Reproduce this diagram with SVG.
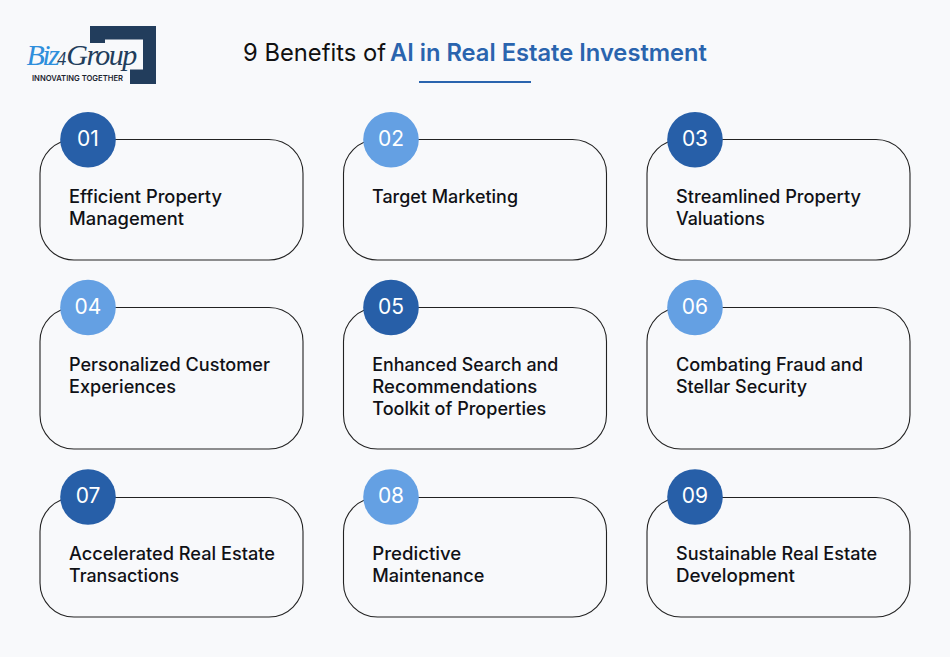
<svg xmlns="http://www.w3.org/2000/svg" width="950" height="657" viewBox="0 0 950 657">
<style>
.card{fill:#f8f9fb;stroke:#222;stroke-width:1.100}
.d{fill:#275fa8}.l{fill:#64a0e3}
.n{font:400 21px Inter,"Liberation Sans",sans-serif;fill:#fff;text-anchor:middle}
.t{font:550 18px Inter,"Liberation Sans",sans-serif;fill:#101116}
</style>
<rect width="950" height="657" fill="#f8f9fb"/>
<g id="logo">
<path d="M90 26H156V84H130V69.500H143V39.500H105V43H90Z" fill="#223d5c"/>
<text x="26.500" y="65" font-family="Liberation Serif,serif" font-style="italic" font-size="30" fill="#223d5c"><tspan fill="#2f8fdc" letter-spacing="-2.500">Biz</tspan><tspan font-size="18">4</tspan><tspan letter-spacing="-1.600">Group</tspan></text>
<text x="32" y="80.500" font-family="Inter,Liberation Sans,sans-serif" font-weight="600" font-size="8" fill="#1c2530" textLength="91" lengthAdjust="spacingAndGlyphs">INNOVATING TOGETHER</text>
</g>
<g id="title">
<text x="243" y="61" font-family="Inter,Liberation Sans,sans-serif" font-size="24" fill="#111" textLength="143" lengthAdjust="spacingAndGlyphs">9 Benefits of</text>
<text x="390" y="61" font-family="Inter,Liberation Sans,sans-serif" font-size="24" font-weight="600" fill="#2a64ae" textLength="317" lengthAdjust="spacingAndGlyphs">AI in Real Estate Investment</text>
<rect x="419" y="81" width="112" height="2" fill="#2a64ae"/>
</g>
<g id="connectors"></g>
<g id="node1"><rect class="card" x="40" y="139.500" width="263" height="120.500" rx="34"/><circle class="d" cx="88" cy="139.700" r="27.800"/><text class="n" x="88" y="146">01</text><text class="t" x="69" y="203" textLength="153" lengthAdjust="spacingAndGlyphs">Efficient Property</text><text class="t" x="69" y="225" textLength="115" lengthAdjust="spacingAndGlyphs">Management</text></g>
<g id="node2"><rect class="card" x="343.500" y="139.500" width="263" height="120.500" rx="34"/><circle class="l" cx="391" cy="139.700" r="27.800"/><text class="n" x="391" y="146">02</text><text class="t" x="372" y="203" textLength="146" lengthAdjust="spacingAndGlyphs">Target Marketing</text></g>
<g id="node3"><rect class="card" x="647" y="139.500" width="263" height="120.500" rx="34"/><circle class="d" cx="695" cy="139.700" r="27.800"/><text class="n" x="695" y="146">03</text><text class="t" x="676" y="203" textLength="185" lengthAdjust="spacingAndGlyphs">Streamlined Property</text><text class="t" x="676" y="225" textLength="89" lengthAdjust="spacingAndGlyphs">Valuations</text></g>
<g id="node4"><rect class="card" x="40" y="307.500" width="263" height="141.500" rx="34"/><circle class="l" cx="88" cy="307.500" r="27.800"/><text class="n" x="88" y="314">04</text><text class="t" x="69" y="371" textLength="201" lengthAdjust="spacingAndGlyphs">Personalized Customer</text><text class="t" x="69" y="393" textLength="107" lengthAdjust="spacingAndGlyphs">Experiences</text></g>
<g id="node5"><rect class="card" x="343.500" y="307.500" width="263" height="141.500" rx="34"/><circle class="d" cx="391" cy="307.500" r="27.800"/><text class="n" x="391" y="314">05</text><text class="t" x="372.300" y="371" textLength="186" lengthAdjust="spacingAndGlyphs">Enhanced Search and</text><text class="t" x="372.300" y="393" textLength="165" lengthAdjust="spacingAndGlyphs">Recommendations</text><text class="t" x="372.300" y="415" textLength="174" lengthAdjust="spacingAndGlyphs">Toolkit of Properties</text></g>
<g id="node6"><rect class="card" x="647" y="307.500" width="263" height="141.500" rx="34"/><circle class="l" cx="695" cy="307.500" r="27.800"/><text class="n" x="695" y="314">06</text><text class="t" x="676" y="371" textLength="187" lengthAdjust="spacingAndGlyphs">Combating Fraud and</text><text class="t" x="676" y="393" textLength="131" lengthAdjust="spacingAndGlyphs">Stellar Security</text></g>
<g id="node7"><rect class="card" x="40" y="497.500" width="263" height="119.500" rx="34"/><circle class="d" cx="88" cy="497" r="27.800"/><text class="n" x="88" y="503">07</text><text class="t" x="69" y="560" textLength="206" lengthAdjust="spacingAndGlyphs">Accelerated Real Estate</text><text class="t" x="69" y="582" textLength="110" lengthAdjust="spacingAndGlyphs">Transactions</text></g>
<g id="node8"><rect class="card" x="343.500" y="497.500" width="263" height="119.500" rx="34"/><circle class="l" cx="391" cy="497" r="27.800"/><text class="n" x="391" y="503">08</text><text class="t" x="372.300" y="560" textLength="89" lengthAdjust="spacingAndGlyphs">Predictive</text><text class="t" x="372.300" y="582" textLength="112" lengthAdjust="spacingAndGlyphs">Maintenance</text></g>
<g id="node9"><rect class="card" x="647" y="497.500" width="263" height="119.500" rx="34"/><circle class="d" cx="695" cy="497" r="27.800"/><text class="n" x="695" y="503">09</text><text class="t" x="676" y="560" textLength="201" lengthAdjust="spacingAndGlyphs">Sustainable Real Estate</text><text class="t" x="676" y="582" textLength="119" lengthAdjust="spacingAndGlyphs">Development</text></g>
</svg>
